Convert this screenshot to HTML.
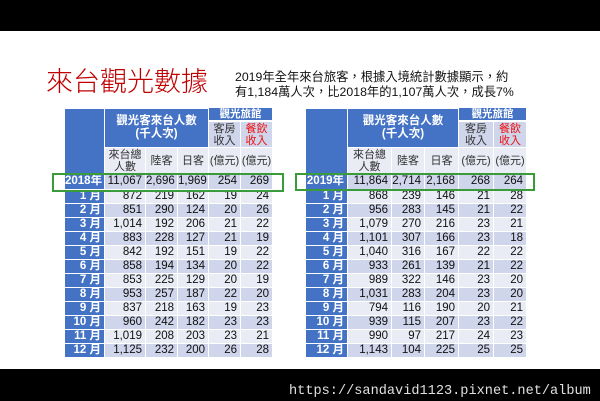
<!DOCTYPE html>
<html lang="zh-Hant-TW"><head><meta charset="utf-8">
<style>
html,body{margin:0;padding:0;}
body{width:600px;height:401px;position:relative;overflow:hidden;background:#fff;font-family:"Liberation Sans","Noto Sans CJK TC",sans-serif;}
.topbar{position:absolute;left:0;top:0;width:600px;height:31px;background:#000;}
.botbar{position:absolute;left:0;top:369px;width:600px;height:32px;background:#000;}
.url{position:absolute;left:289px;top:383px;line-height:18px;font-family:"Liberation Mono",monospace;font-size:13.6px;color:#e0e0e0;white-space:nowrap;}
.title{position:absolute;left:46px;top:66px;font-size:27px;line-height:27px;color:#c00000;font-family:"Noto Sans CJK TC Light","Noto Sans CJK TC",sans-serif;font-weight:300;white-space:nowrap;}
.sub{position:absolute;left:235px;top:70px;font-size:12.3px;line-height:15px;color:#111;white-space:nowrap;}
table.t{position:absolute;border-collapse:collapse;table-layout:fixed;font-size:11.5px;}
table.t td{border:1px solid #fff;padding:0 3px 0 0;text-align:right;vertical-align:middle;line-height:13px;overflow:hidden;white-space:nowrap;color:#111;}
table.t td.b{background:#4472c4;color:#fff;font-weight:bold;}
table.t td.c{text-align:center;padding:0;}
table.t td.h{font-size:11px;color:#333;line-height:12px;}
table.t td.hb{font-size:11.5px;}
table.t td.red{color:#f01010;}
table.t td.e{font-size:1px;line-height:1px;}
.l td{background:#e9ebf5;}
.d td{background:#cfd5ea;}
td.lt{background:#e9ebf5;}
td.dk{background:#cfd5ea;}
tr.m{height:13.58px;}
.gbox{position:absolute;border:2px solid #3a9b3a;box-sizing:border-box;}
.ov{position:absolute;top:108px;height:12px;line-height:12px;font-size:10.5px;font-weight:bold;color:#fff;background:#4472c4;border-bottom:1px solid #fff;text-align:center;white-space:nowrap;overflow:hidden;font-family:"Liberation Sans","Noto Sans CJK TC",sans-serif;}
</style></head><body>
<div class="topbar"></div>
<div class="title">來台觀光數據</div>
<div class="sub">2019年全年來台旅客，根據入境統計數據顯示，約<br>有1,184萬人次，比2018年的1,107萬人次，成長7%</div>

<table class="t" style="left:64px;top:108px;width:208px;">
<colgroup><col style="width:40px"><col style="width:41px"><col style="width:32px"><col style="width:31px"><col style="width:32px"><col style="width:32px"></colgroup>
<tr style="height:13px"><td class="b" rowspan="3"></td><td class="b c hb" colspan="3" rowspan="2">觀光客來台人數<br>(千人次)</td><td class="b e" colspan="2"></td></tr>
<tr style="height:26px"><td class="c h dk">客房<br>收入</td><td class="c h dk red">餐飲<br>收入</td></tr>
<tr style="height:26px"><td class="c h lt">來台總<br>人數</td><td class="c h lt">陸客</td><td class="c h lt">日客</td><td class="c h lt">(億元)</td><td class="c h lt">(億元)</td></tr>
<tr class="d" style="height:16px"><td class="b">2018年</td><td>11,067</td><td>2,696</td><td>1,969</td><td>254</td><td>269</td></tr>
<tr class="m l"><td class="b">1 月</td><td>872</td><td>219</td><td>162</td><td>19</td><td>24</td></tr>
<tr class="m d"><td class="b">2 月</td><td>851</td><td>290</td><td>124</td><td>20</td><td>26</td></tr>
<tr class="m l"><td class="b">3 月</td><td>1,014</td><td>192</td><td>206</td><td>21</td><td>22</td></tr>
<tr class="m d"><td class="b">4 月</td><td>883</td><td>228</td><td>127</td><td>21</td><td>19</td></tr>
<tr class="m l"><td class="b">5 月</td><td>842</td><td>192</td><td>151</td><td>19</td><td>22</td></tr>
<tr class="m d"><td class="b">6 月</td><td>858</td><td>194</td><td>134</td><td>20</td><td>22</td></tr>
<tr class="m l"><td class="b">7 月</td><td>853</td><td>225</td><td>129</td><td>20</td><td>19</td></tr>
<tr class="m d"><td class="b">8 月</td><td>953</td><td>257</td><td>187</td><td>22</td><td>20</td></tr>
<tr class="m l"><td class="b">9 月</td><td>837</td><td>218</td><td>163</td><td>19</td><td>23</td></tr>
<tr class="m d"><td class="b">10 月</td><td>960</td><td>242</td><td>182</td><td>23</td><td>23</td></tr>
<tr class="m l"><td class="b">11 月</td><td>1,019</td><td>208</td><td>203</td><td>23</td><td>21</td></tr>
<tr class="m d"><td class="b">12 月</td><td>1,125</td><td>232</td><td>200</td><td>26</td><td>28</td></tr>
</table>
<div class="ov" style="left:209px;width:63px;">觀光旅館</div>

<table class="t" style="left:305px;top:108px;width:221px;">
<colgroup><col style="width:42px"><col style="width:44px"><col style="width:33px"><col style="width:34px"><col style="width:35px"><col style="width:33px"></colgroup>
<tr style="height:13px"><td class="b" rowspan="3"></td><td class="b c hb" colspan="3" rowspan="2">觀光客來台人數<br>(千人次)</td><td class="b e" colspan="2"></td></tr>
<tr style="height:26px"><td class="c h dk">客房<br>收入</td><td class="c h dk red">餐飲<br>收入</td></tr>
<tr style="height:26px"><td class="c h lt">來台總<br>人數</td><td class="c h lt">陸客</td><td class="c h lt">日客</td><td class="c h lt">(億元)</td><td class="c h lt">(億元)</td></tr>
<tr class="d" style="height:16px"><td class="b">2019年</td><td>11,864</td><td>2,714</td><td>2,168</td><td>268</td><td>264</td></tr>
<tr class="m l"><td class="b">1 月</td><td>868</td><td>239</td><td>146</td><td>21</td><td>28</td></tr>
<tr class="m d"><td class="b">2 月</td><td>956</td><td>283</td><td>145</td><td>21</td><td>22</td></tr>
<tr class="m l"><td class="b">3 月</td><td>1,079</td><td>270</td><td>216</td><td>23</td><td>21</td></tr>
<tr class="m d"><td class="b">4 月</td><td>1,101</td><td>307</td><td>166</td><td>23</td><td>18</td></tr>
<tr class="m l"><td class="b">5 月</td><td>1,040</td><td>316</td><td>167</td><td>22</td><td>22</td></tr>
<tr class="m d"><td class="b">6 月</td><td>933</td><td>261</td><td>139</td><td>21</td><td>22</td></tr>
<tr class="m l"><td class="b">7 月</td><td>989</td><td>322</td><td>146</td><td>23</td><td>20</td></tr>
<tr class="m d"><td class="b">8 月</td><td>1,031</td><td>283</td><td>204</td><td>23</td><td>20</td></tr>
<tr class="m l"><td class="b">9 月</td><td>794</td><td>116</td><td>190</td><td>20</td><td>21</td></tr>
<tr class="m d"><td class="b">10 月</td><td>939</td><td>115</td><td>207</td><td>23</td><td>22</td></tr>
<tr class="m l"><td class="b">11 月</td><td>990</td><td>97</td><td>217</td><td>24</td><td>23</td></tr>
<tr class="m d"><td class="b">12 月</td><td>1,143</td><td>104</td><td>225</td><td>25</td><td>25</td></tr>
</table>
<div class="ov" style="left:459px;width:67px;">觀光旅館</div>

<div class="gbox" style="left:52px;top:173px;width:232px;height:19px;"></div>
<div class="gbox" style="left:295px;top:173px;width:240px;height:18px;"></div>

<div class="botbar"></div>
<div class="url">https://sandavid1123.pixnet.net/album</div>
</body></html>
